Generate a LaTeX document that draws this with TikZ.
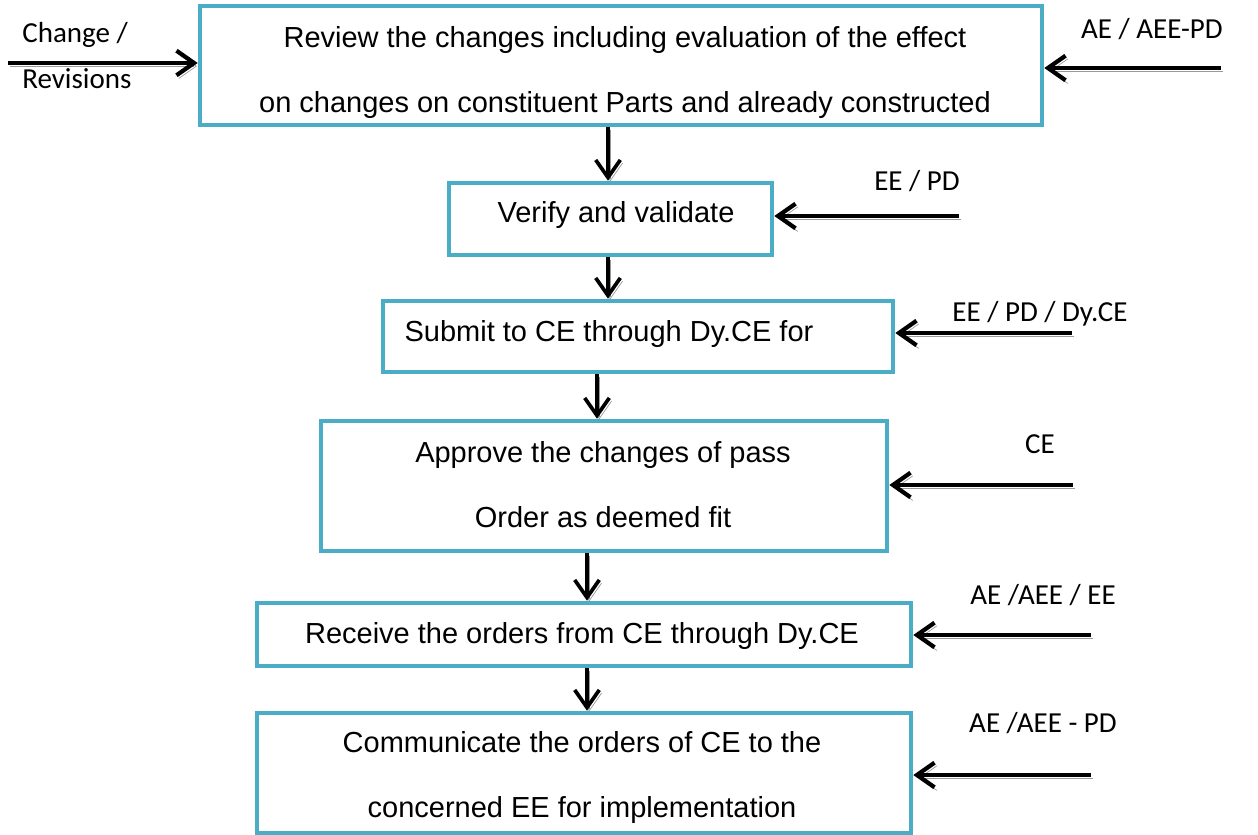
\documentclass[tikz,border=0pt]{standalone}
\usepackage{fontspec}
\setmainfont{Liberation Sans}
\newfontfamily\labelfont{Carlito}
\usetikzlibrary{arrows.meta,fit}
\definecolor{boxblue}{HTML}{4BACC6}
\colorlet{shade}{black!40}
\tikzset{
  procbox/.style={draw=boxblue,line width=2.6pt,inner sep=0pt},
  boxtext/.style={font=\fontsize{16.5}{36.9}\selectfont,align=center,anchor=base,inner sep=0pt},
  who/.style={font=\labelfont\fontsize{16.5}{26}\selectfont,anchor=base,inner sep=0pt},
  feed/.style={line width=2.4pt,-{Straight Barb[length=10pt,width=14pt]},
    preaction={draw=shade,transform canvas={xshift=1.3pt,yshift=-1.8pt}}},
  flow/.style={feed,line width=2.1pt},
}

\begin{document}
\begin{tikzpicture}[x=0.02cm,y=-0.02cm]
\useasboundingbox (0,0) rectangle (1258,835);
\node[procbox,fit={(200,6) (1042,125)}] (review) {};
\node[procbox,fit={(449,183) (772,255)}] (verify) {};
\node[procbox,fit={(383,301) (893,372)}] (submit) {};
\node[procbox,fit={(321,421) (887,551)}] (approve) {};
\node[procbox,fit={(257,603) (911,666)}] (receive) {};
\node[procbox,fit={(257,713) (911,833)}] (inform) {};

\node[boxtext] (reviewtxt) at (625,112) {Review the changes including evaluation of the effect\\on changes on constituent Parts and already constructed};
\node[boxtext] (verifytxt) at (616,222) {Verify and validate};
\node[boxtext] (submittxt) at (609,341) {Submit to CE through Dy.CE for};
\node[boxtext] (approvetxt) at (603,527) {Approve the changes of pass\\Order as deemed fit};
\node[boxtext] (receivetxt) at (582,643) {Receive the orders from CE through Dy.CE};
\node[boxtext] (informtxt) at (582,817) {Communicate the orders of CE to the\\concerned EE for implementation};

\node[who,align=left,anchor=base west] (changetxt) at (22,88) {Change /\\Revisions};
\node[who] (who1) at (1152,38) {AE / AEE-PD};
\node[who] (who2) at (917,190) {EE / PD};
\node[who] (who3) at (1040,321) {EE / PD / Dy.CE};
\node[who] (who4) at (1040,453) {CE};
\node[who] (who5) at (1043,604) {AE /AEE / EE};
\node[who] (who6) at (1043,732) {AE /AEE - PD};

\coordinate (in0) at (8,63);
\coordinate (in1) at (1221,68);
\coordinate (in2) at (959,216);
\coordinate (in3) at (1072,333);
\coordinate (in4) at (1073,485);
\coordinate (in5) at (1091,635);
\coordinate (in6) at (1091,775);
\draw[feed] (in0) -- (review.west |- in0);
\draw[feed] (in1) -- (review.east |- in1);
\draw[feed] (in2) -- (verify.east |- in2);
\draw[feed] (in3) -- (submit.east |- in3);
\draw[feed] (in4) -- (approve.east |- in4);
\draw[feed] (in5) -- (receive.east |- in5);
\draw[feed] (in6) -- (inform.east |- in6);

\coordinate (d1) at (608,0);
\coordinate (d2) at (597,0);
\coordinate (d3) at (587,0);
\draw[flow] (review.south -| d1) -- (verify.north -| d1);
\draw[flow] (verify.south -| d1) -- (submit.north -| d1);
\draw[flow] (submit.south -| d2) -- (approve.north -| d2);
\draw[flow] (approve.south -| d3) -- (receive.north -| d3);
\draw[flow] (receive.south -| d3) -- (inform.north -| d3);
\end{tikzpicture}
\end{document}
